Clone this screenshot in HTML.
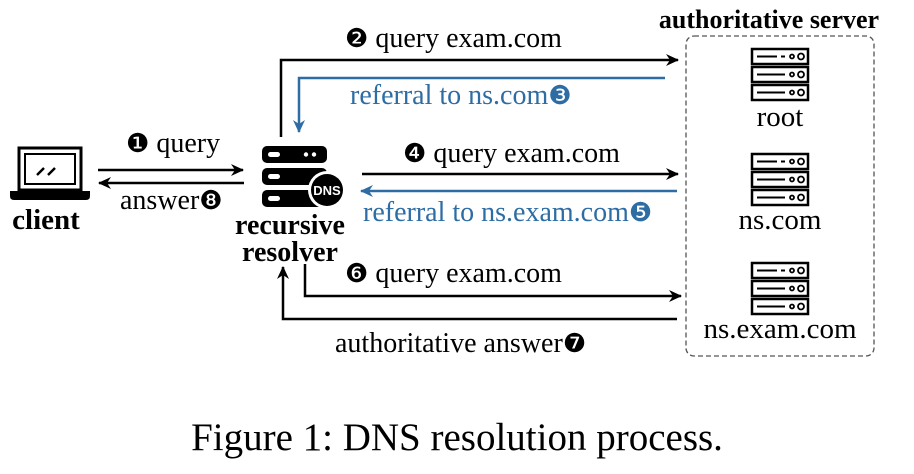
<!DOCTYPE html>
<html><head><meta charset="utf-8"><style>
html,body{margin:0;padding:0;background:#fff;}
svg{display:block;}
</style></head><body>
<svg width="914" height="474" viewBox="0 0 914 474" xmlns="http://www.w3.org/2000/svg">
<defs>
<marker id="ab" markerWidth="13" markerHeight="12" refX="12" refY="6" orient="auto" markerUnits="userSpaceOnUse"><path d="M0,0 L13,6 L0,12 L4,6 Z" fill="#000"/></marker>
<marker id="au" markerWidth="13" markerHeight="12" refX="12" refY="6" orient="auto" markerUnits="userSpaceOnUse"><path d="M0,0 L13,6 L0,12 L4,6 Z" fill="#2e6da4"/></marker>
<g id="srv">
 <rect x="1" y="1" width="56" height="15" fill="#fff" stroke="#000" stroke-width="2.5"/>
 <rect x="1" y="19" width="56" height="15" fill="#fff" stroke="#000" stroke-width="2.5"/>
 <rect x="1" y="37" width="56" height="15" fill="#fff" stroke="#000" stroke-width="2.5"/>
 <line x1="6" y1="8.5" x2="26" y2="8.5" stroke="#000" stroke-width="2"/><line x1="30" y1="8.5" x2="34" y2="8.5" stroke="#000" stroke-width="2"/>
 <line x1="6" y1="26.5" x2="34" y2="26.5" stroke="#000" stroke-width="2"/>
 <line x1="6" y1="44.5" x2="34" y2="44.5" stroke="#000" stroke-width="2"/>
 <circle cx="41" cy="8.5" r="2" fill="none" stroke="#000" stroke-width="1.8"/><circle cx="50" cy="8.5" r="3" fill="none" stroke="#000" stroke-width="1.8"/>
 <circle cx="41" cy="26.5" r="2" fill="none" stroke="#000" stroke-width="1.8"/><circle cx="50" cy="26.5" r="3" fill="none" stroke="#000" stroke-width="1.8"/>
 <circle cx="41" cy="44.5" r="2" fill="none" stroke="#000" stroke-width="1.8"/><circle cx="50" cy="44.5" r="3" fill="none" stroke="#000" stroke-width="1.8"/>
</g>
</defs>
<!-- laptop -->
<rect x="19" y="148" width="62" height="42" fill="#fff" stroke="#000" stroke-width="3"/>
<rect x="25" y="154" width="50" height="30" fill="none" stroke="#000" stroke-width="2"/>
<line x1="37" y1="175" x2="44" y2="168" stroke="#000" stroke-width="2.5"/>
<line x1="48" y1="175" x2="55" y2="168" stroke="#000" stroke-width="2.5"/>
<path d="M10,191 H90 V196 Q90,200 86,200 H14 Q10,200 10,196 Z" fill="#000"/>
<!-- resolver -->
<rect x="262" y="146" width="65" height="17" rx="5" fill="#000"/>
<rect x="262" y="168" width="65" height="17" rx="5" fill="#000"/>
<rect x="262" y="190" width="65" height="17" rx="5" fill="#000"/>
<rect x="268" y="152" width="12" height="5" rx="2.5" fill="#fff"/>
<circle cx="306" cy="154.5" r="2.2" fill="#fff"/><circle cx="314" cy="154.5" r="2.2" fill="#fff"/>
<rect x="268" y="174" width="12" height="5" rx="2.5" fill="#fff"/>
<rect x="268" y="196" width="12" height="5" rx="2.5" fill="#fff"/>
<circle cx="327" cy="190" r="19" fill="#fff"/>
<circle cx="327" cy="190" r="16" fill="#000"/>
<text x="327" y="195" font-size="13" font-weight="bold" fill="#fff" text-anchor="middle" font-family="Liberation Sans, sans-serif">DNS</text>
<!-- box -->
<rect x="686" y="36" width="188" height="320" rx="8" fill="none" stroke="#555" stroke-width="1.3" stroke-dasharray="5,3"/>
<use href="#srv" x="751" y="48"/>
<use href="#srv" x="751" y="153"/>
<use href="#srv" x="751" y="262"/>
<!-- arrows -->
<line x1="98" y1="170" x2="243" y2="170" stroke="#000" stroke-width="2.5" marker-end="url(#ab)"/>
<line x1="244" y1="183" x2="99" y2="183" stroke="#000" stroke-width="2.5" marker-end="url(#ab)"/>
<polyline points="281,137 281,60 678,60" fill="none" stroke="#000" stroke-width="2.5" marker-end="url(#ab)"/>
<polyline points="665,78 299,78 299,132" fill="none" stroke="#2e6da4" stroke-width="2.5" marker-end="url(#au)"/>
<line x1="362" y1="174" x2="678" y2="174" stroke="#000" stroke-width="2.5" marker-end="url(#ab)"/>
<line x1="677" y1="191" x2="361" y2="191" stroke="#2e6da4" stroke-width="2.5" marker-end="url(#au)"/>
<polyline points="305,264 305,296 681,296" fill="none" stroke="#000" stroke-width="2.5" marker-end="url(#ab)"/>
<polyline points="677,319 283,319 283,267" fill="none" stroke="#000" stroke-width="2.5" marker-end="url(#ab)"/>
<g font-family="Liberation Serif, serif">
<text x="46" y="229" font-size="29" font-weight="bold" text-anchor="middle">client</text>
<text x="290" y="234" font-size="28" font-weight="bold" text-anchor="middle">recursive</text>
<text x="290" y="261" font-size="28" font-weight="bold" text-anchor="middle">resolver</text>
<text x="769" y="28" font-size="26" font-weight="bold" text-anchor="middle">authoritative server</text>
<text x="780" y="126" font-size="29" text-anchor="middle">root</text>
<text x="780" y="229" font-size="29" text-anchor="middle">ns.com</text>
<text x="780" y="338" font-size="29" text-anchor="middle">ns.exam.com</text>
<text x="126" y="152" font-size="28"><tspan font-family="DejaVu Sans, sans-serif" font-size="26">❶</tspan> query</text>
<text x="120" y="209" font-size="28">answer<tspan font-family="DejaVu Sans, sans-serif" font-size="26">❽</tspan></text>
<text x="345" y="47" font-size="28"><tspan font-family="DejaVu Sans, sans-serif" font-size="26">❷</tspan> query exam.com</text>
<text x="350" y="104" font-size="28" fill="#2e6da4">referral to ns.com<tspan font-family="DejaVu Sans, sans-serif" font-size="26">❸</tspan></text>
<text x="403" y="162" font-size="28"><tspan font-family="DejaVu Sans, sans-serif" font-size="26">❹</tspan> query exam.com</text>
<text x="363" y="221" font-size="28" fill="#2e6da4">referral to ns.exam.com<tspan font-family="DejaVu Sans, sans-serif" font-size="26">❺</tspan></text>
<text x="345" y="282" font-size="28"><tspan font-family="DejaVu Sans, sans-serif" font-size="26">❻</tspan> query exam.com</text>
<text x="335" y="352" font-size="28">authoritative answer<tspan font-family="DejaVu Sans, sans-serif" font-size="26">❼</tspan></text>
<text x="457" y="450" font-size="39" text-anchor="middle">Figure 1: DNS resolution process.</text>
</g>
</svg>
</body></html>
